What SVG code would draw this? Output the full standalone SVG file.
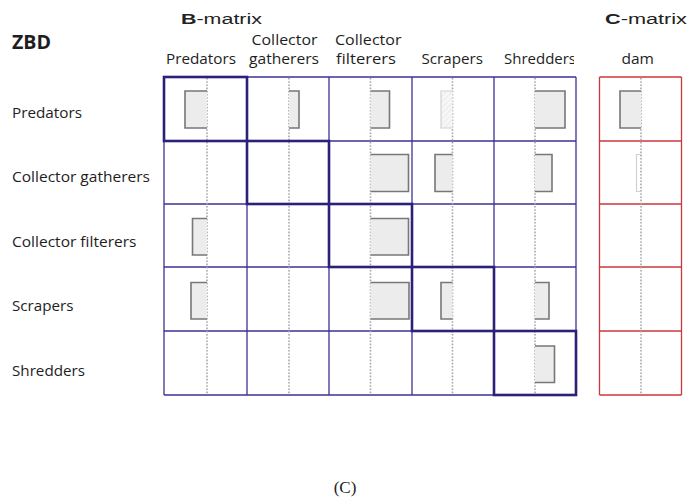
<svg xmlns="http://www.w3.org/2000/svg" width="689" height="498" viewBox="0 0 689 498">
<style>
.lbl{font-family:"Open Sans","Noto Sans",sans-serif;font-size:15px;fill:#1e1e1e}
.ttl{font-family:"Liberation Sans",Arial,sans-serif;font-size:15.5px;fill:#222}
.thin{stroke:#3d3296;stroke-width:1.3;fill:none}
.thick{stroke:#2b2178;stroke-width:2.6;fill:none}
.red{stroke:#c8383c;stroke-width:1.3;fill:none}
.dot{stroke:#a6a6a6;stroke-width:1.6;stroke-dasharray:1.6 1.6;fill:none}
.barf{fill:#ececec;stroke:none}
.bars{fill:none;stroke:#777;stroke-width:1.6}
.faint{fill:none;stroke:#d2d2d2;stroke-width:1.2}
</style>
<defs>
<pattern id="hatch" width="4" height="4" patternUnits="userSpaceOnUse" patternTransform="rotate(45)">
<rect width="4" height="4" fill="#f7f7f7"/>
<line x1="0" y1="0" x2="0" y2="4" stroke="#e2e2e2" stroke-width="1.2"/>
</pattern>
<clipPath id="clipShr"><rect x="490" y="40" width="84" height="35"/></clipPath>
</defs>

<rect width="689" height="498" fill="#fff"/>

<g id="titles">
<text class="lbl" x="12" y="49" style="font-size:20px;font-weight:bold" textLength="39" lengthAdjust="spacingAndGlyphs">ZBD</text>
<text class="ttl" x="181" y="24" textLength="81" lengthAdjust="spacingAndGlyphs"><tspan font-weight="bold">B</tspan>-matrix</text>
<text class="ttl" x="605" y="24" textLength="82" lengthAdjust="spacingAndGlyphs"><tspan font-weight="bold">C</tspan>-matrix</text>
<text x="345" y="493" font-family="'Liberation Serif','Times New Roman',serif" font-size="17" fill="#222" text-anchor="middle">(C)</text>
</g>

<g id="col-headers">
<text class="lbl" x="166" y="64" textLength="70" lengthAdjust="spacingAndGlyphs">Predators</text>
<text class="lbl" x="251.5" y="44.5" textLength="66" lengthAdjust="spacingAndGlyphs">Collector</text>
<text class="lbl" x="249" y="64" textLength="70" lengthAdjust="spacingAndGlyphs">gatherers</text>
<text class="lbl" x="335" y="44.5" textLength="66.5" lengthAdjust="spacingAndGlyphs">Collector</text>
<text class="lbl" x="336" y="64" textLength="60" lengthAdjust="spacingAndGlyphs">filterers</text>
<text class="lbl" x="421.5" y="64" textLength="61.5" lengthAdjust="spacingAndGlyphs">Scrapers</text>
<text class="lbl" x="504" y="64" textLength="72" lengthAdjust="spacingAndGlyphs" clip-path="url(#clipShr)">Shredders</text>
<text class="lbl" x="621.5" y="64" textLength="32.5" lengthAdjust="spacingAndGlyphs">dam</text>
</g>

<g id="row-headers">
<text class="lbl" x="12" y="117.5" textLength="70" lengthAdjust="spacingAndGlyphs">Predators</text>
<text class="lbl" x="12" y="182" textLength="138" lengthAdjust="spacingAndGlyphs">Collector gatherers</text>
<text class="lbl" x="12" y="246.5" textLength="124.5" lengthAdjust="spacingAndGlyphs">Collector filterers</text>
<text class="lbl" x="12" y="311" textLength="61.5" lengthAdjust="spacingAndGlyphs">Scrapers</text>
<text class="lbl" x="12" y="375.5" textLength="73" lengthAdjust="spacingAndGlyphs">Shredders</text>
</g>

<g id="b-matrix-grid">
<path class="thin" d="M164 77V395M247 77V395M329 77V395M412 77V395M494 77V395M576 77V395"/>
<path class="thin" d="M164 77H576M164 141H576M164 204H576M164 267H576M164 331H576M164 395H576"/>
<path class="dot" d="M207 78V394M289 78V394M370.5 78V394M452.5 78V394M535 78V394"/>
</g>

<g id="c-matrix-grid">
<path class="red" d="M599.5 77V395M681.5 77V395M599.5 77H681.5M599.5 141H681.5M599.5 204H681.5M599.5 267H681.5M599.5 331H681.5M599.5 395H681.5"/>
<path class="dot" d="M641 78V394"/>
</g>

<g id="diagonal">
<rect class="thick" x="164" y="77" width="83" height="64"/>
<rect class="thick" x="247" y="141" width="82" height="63"/>
<rect class="thick" x="329" y="204" width="83" height="63"/>
<rect class="thick" x="412" y="267" width="82" height="64"/>
<rect class="thick" x="494" y="331" width="82" height="64"/>
</g>

<g id="bars">
<rect class="barf" x="185" y="91" width="22" height="37"/><path class="bars" d="M207 91H185V128H207"/>
<rect class="barf" x="289" y="91" width="10" height="37"/><path class="bars" d="M289 91H299V128H289"/>
<rect class="barf" x="370.5" y="91" width="19" height="37"/><path class="bars" d="M370.5 91H389.5V128H370.5"/>
<rect x="441" y="91" width="11.5" height="37" fill="url(#hatch)"/><path class="faint" d="M452.5 91H441V128H452.5"/>
<rect class="barf" x="535" y="91" width="30" height="37"/><path class="bars" d="M535 91H565V128H535"/>
<rect class="barf" x="620" y="91" width="21" height="37"/><path class="bars" d="M641 91H620V128H641"/>
<rect class="barf" x="370.5" y="154.5" width="38" height="37"/><path class="bars" d="M370.5 154.5H408.5V191.5H370.5"/>
<rect class="barf" x="435" y="154.5" width="17.5" height="37"/><path class="bars" d="M452.5 154.5H435V191.5H452.5"/>
<rect class="barf" x="535" y="154.5" width="17" height="37"/><path class="bars" d="M535 154.5H552V191.5H535"/>
<path class="faint" d="M641 154.5H636.5V191.5H641"/>
<rect class="barf" x="192.5" y="218.5" width="14.5" height="36.5"/><path class="bars" d="M207 218.5H192.5V255H207"/>
<rect class="barf" x="370.5" y="218.5" width="38" height="36.5"/><path class="bars" d="M370.5 218.5H408.5V255H370.5"/>
<rect class="barf" x="191" y="282.5" width="16" height="36.5"/><path class="bars" d="M207 282.5H191V319H207"/>
<rect class="barf" x="370.5" y="282.5" width="38.5" height="36.5"/><path class="bars" d="M370.5 282.5H409V319H370.5"/>
<rect class="barf" x="441" y="282.5" width="11.5" height="36.5"/><path class="bars" d="M452.5 282.5H441V319H452.5"/>
<rect class="barf" x="535" y="282.5" width="14" height="36.5"/><path class="bars" d="M535 282.5H549V319H535"/>
<rect class="barf" x="535" y="346" width="19.5" height="36.5"/><path class="bars" d="M535 346H554.5V382.5H535"/>
</g>
</svg>
